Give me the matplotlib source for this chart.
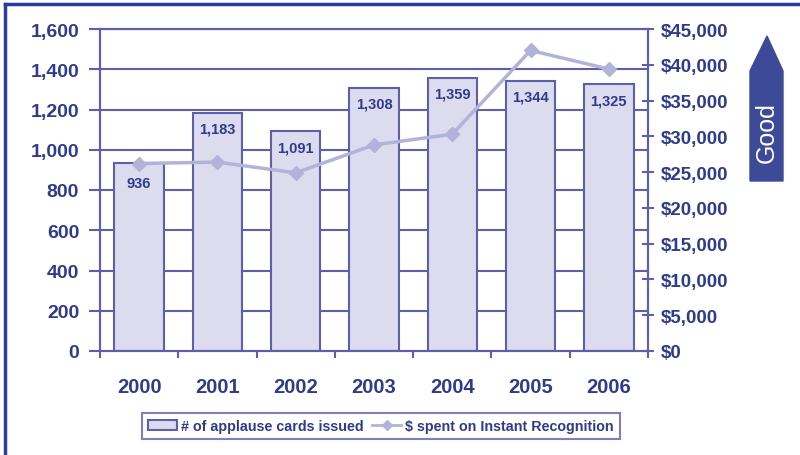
import matplotlib
matplotlib.use("Agg")
import matplotlib.pyplot as plt
from matplotlib.patches import Polygon, Rectangle
from matplotlib.lines import Line2D
from matplotlib.ticker import FuncFormatter, MultipleLocator

years = ["2000", "2001", "2002", "2003", "2004", "2005", "2006"]
cards = [936, 1183, 1091, 1308, 1359, 1344, 1325]
spent = [26200, 26400, 24900, 28800, 30300, 42000, 39400]
bar_labels = ["936", "1,183", "1,091", "1,308", "1,359", "1,344", "1,325"]

TEXT = "#2f3b8c"
EDGE = "#5d60a8"
FILL = "#dcdcee"
LINE = "#b2b3da"
ARROW = "#3c4a98"

plt.rcParams['font.family'] = ['Liberation Sans', 'DejaVu Sans']

fig = plt.figure(figsize=(8, 4.56), dpi=100)
ax = fig.add_axes([100/800, 1-352/456, 548/800, 322/456])
ax2 = ax.twinx()

x = list(range(len(years)))
ax.set_xlim(-0.5, len(years) - 0.5)
ax.set_ylim(0, 1600)
ax.yaxis.set_major_locator(MultipleLocator(200))
for y in range(200, 1601, 200):
    ax.axhline(y, color=EDGE, lw=1.5, zorder=1)
bars = ax.bar(x, cards, width=0.63, color=FILL, edgecolor=EDGE, linewidth=1.5, zorder=2)
for xi, v, lab in zip(x, cards, bar_labels):
    off = -20 if xi == 0 else -16
    ax.annotate(lab, (xi, v), xytext=(0, off), textcoords="offset pixels",
                ha="center", va="center", fontsize=10.5, fontweight="bold", color=TEXT, zorder=5)

ax.set_xticks([i + 0.5 for i in range(-1, len(years))])
ax.set_xticklabels([])
ax.set_xticks(x, minor=True)
ax.set_xticklabels(years, minor=True)
ax.tick_params(axis="x", which="major", direction="out", length=5, width=1.5, color=EDGE)
ax.tick_params(axis="x", which="minor", length=0, pad=19, labelsize=14.5, labelcolor=TEXT)
for lab in ax.get_xticklabels(minor=True):
    lab.set_fontweight("bold")
ax.tick_params(axis="y", direction="out", length=8, width=1.5, color=EDGE, labelsize=14, labelcolor=TEXT, pad=7)
ax.yaxis.set_major_formatter(FuncFormatter(lambda v, p: f"{int(v):,}"))
for lab in ax.get_yticklabels():
    lab.set_fontweight("bold")
for s in ax.spines.values():
    s.set_color(EDGE)
    s.set_linewidth(1.5)

ax2.set_ylim(0, 45000)
ax2.yaxis.set_major_locator(MultipleLocator(5000))
ax2.yaxis.set_major_formatter(FuncFormatter(lambda v, p: f"${int(v):,}"))
ax2.tick_params(axis="y", direction="inout", length=8, width=1.5, color=EDGE, labelsize=13.5, labelcolor=TEXT, pad=5)
for lab in ax2.get_yticklabels():
    lab.set_fontweight("bold")
for s in ax2.spines.values():
    s.set_color(EDGE)
    s.set_linewidth(1.5)
ax2.plot(x, spent, color=LINE, lw=2.5, marker="D", markersize=7, markeredgecolor=LINE, zorder=4)

# legend
h1 = Rectangle((0, 0), 1, 1, facecolor=FILL, edgecolor=EDGE, linewidth=1.5)
h2 = Line2D([], [], color=LINE, lw=2, marker="D", markersize=5)
leg = fig.legend([h1, h2], ["# of applause cards issued", "$ spent on Instant Recognition"],
                 loc="center", bbox_to_anchor=(381/800, 1-427/456), ncol=2, fancybox=False,
                 frameon=True, handlelength=2.0, handletextpad=0.3, columnspacing=0.6,
                 borderpad=0.45, prop={"weight": "bold", "size": 10.3})
leg.get_frame().set_edgecolor(EDGE)
leg.get_frame().set_linewidth(1.5)
for t in leg.get_texts():
    t.set_color(TEXT)

# Good arrow
def fx(px):
    return px / 800
def fy(py):
    return 1 - py / 456
arrow = Polygon([(fx(750), fy(182)), (fx(750), fy(72)), (fx(767), fy(37)), (fx(783), fy(72)), (fx(783), fy(182))],
                closed=True, transform=fig.transFigure, facecolor=ARROW, edgecolor=ARROW)
fig.patches.append(arrow)
fig.text(fx(767), fy(133), "Good", rotation=90, ha="center", va="center", color="white", fontsize=18)

# frame lines (top and left)
fig.add_artist(Line2D([fx(5), 1], [fy(5), fy(5)], transform=fig.transFigure, color="#2b3d9a", lw=2.5))
fig.add_artist(Line2D([fx(5), fx(5)], [fy(5), 0], transform=fig.transFigure, color="#2b3d9a", lw=2.5))

fig.savefig("out.png", dpi=100)
